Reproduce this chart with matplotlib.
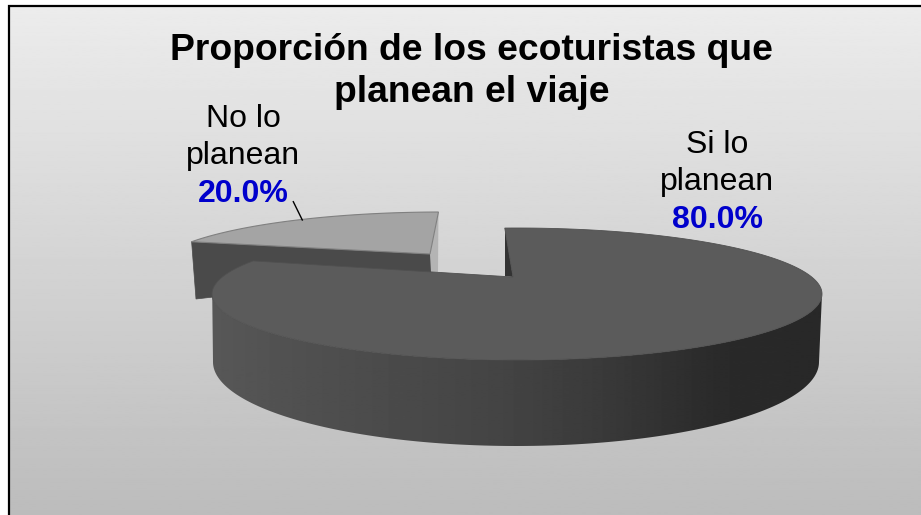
import numpy as np
import matplotlib
matplotlib.use("Agg")
import matplotlib.pyplot as plt
from matplotlib.patches import Polygon

plt.rcParams['font.family'] = ['Liberation Sans', 'DejaVu Sans']

title_lines = ["Proporción de los ecoturistas que", "planean el viaje"]
categories = ["Si lo\nplanean", "No lo\nplanean"]
values = [80.0, 20.0]

W, H = 921, 515
fig = plt.figure(figsize=(W/100, H/100), dpi=100)
ax = fig.add_axes([0, 0, 1, 1])
ax.set_xlim(0, W); ax.set_ylim(H, 0); ax.axis('off')

# background
bg = np.linspace(0xEC, 0xBC, 256)[:, None] / 255
ax.imshow(bg, extent=[8, W, H, 5], cmap='gray', vmin=0, vmax=1, aspect='auto', zorder=0)
ax.plot([8.5, 8.5, W], [H, 5.5, 5.5], color='black', lw=1.6, zorder=1, solid_joinstyle='miter')
ax.set_xlim(0, W); ax.set_ylim(H, 0)

def arc(cx, cy, rx, ry, a0, a1, n=200):
    t = np.radians(np.linspace(a0, a1, n))
    return np.c_[cx + rx*np.sin(t), cy - ry*np.cos(t)]

# small slice
small_scale = 2.95
s0 = 300.3
s1 = s0 + values[1]*small_scale
s_apex = (430, 254)
s_arc = arc(442, 272, 290, 60, s0, s1)
ax.add_patch(Polygon([s_arc[0], s_apex, (433, 272), (196, 299)], fc='#4a4a4a', ec='#4a4a4a', lw=.5, zorder=2))
ax.add_patch(Polygon([s_arc[-1], s_apex, (431, 272), (438, 272)], fc='#b4b4b4', ec='none', zorder=2))
ax.add_patch(Polygon(np.vstack([s_arc, [s_apex]]), fc='#a4a4a4', ec='#808080', lw=.8, zorder=3))

# big slice
big_scale = 3.78
b0 = -2.3
b1 = b0 + values[0]*big_scale
apex = (513, 277)
top_arc = arc(517, 294, 305, 66, b0, b1, 400)
ax.add_patch(Polygon([(505, 228), (505, 276), (513, 277)], fc='#333333', ec='none', zorder=4))

# outer side with horizontal shading
front_top = arc(517, 294, 305, 66, 90, 272)
front_bot = arc(516, 362, 303, 84, 90, 270)
side_poly = Polygon(np.vstack([front_top, front_bot[::-1]]), fc='none', ec='none', zorder=5)
ax.add_patch(side_poly)
grad_x = np.array([205, 300, 400, 500, 600, 660, 720, 830])
grad_v = np.array([0x58, 0x50, 0x4a, 0x44, 0x3a, 0x32, 0x2a, 0x28])
grad = np.interp(np.linspace(205, 830, 625), grad_x, grad_v)[None, :] / 255
im = ax.imshow(grad, extent=[205, 830, 450, 285], cmap='gray', vmin=0, vmax=1, aspect='auto', zorder=5)
im.set_clip_path(side_poly)
ax.set_xlim(0, W); ax.set_ylim(H, 0)

ax.add_patch(Polygon(np.vstack([top_arc, [apex]]), fc='#5b5b5b', ec='#505050', lw=.6, zorder=6))

# labels
ax.text(471.5, 60, title_lines[0], ha='center', va='baseline', fontsize=26.8, fontweight='bold', color='black', zorder=8)
ax.text(471.5, 102.5, title_lines[1], ha='center', va='baseline', fontsize=26.8, fontweight='bold', color='black', zorder=8)

blue = '#0000CC'
for cat, val, x, y0 in zip(categories, values, [717, 243.5], [153, 127]):
    l1, l2 = cat.split("\n")
    ax.text(x, y0, l1, ha='center', va='baseline', fontsize=23, color='black', zorder=8)
    ax.text(x, y0+37, l2, ha='center', va='baseline', fontsize=23, color='black', zorder=8)
    ax.text(x, y0+75, f"{val:.1f}%", ha='center', va='baseline', fontsize=23, fontweight='bold', color=blue, zorder=8)

ax.plot([293.3, 302.3], [201.7, 220], color='black', lw=1, zorder=7)

fig.savefig("out.png", dpi=100)
